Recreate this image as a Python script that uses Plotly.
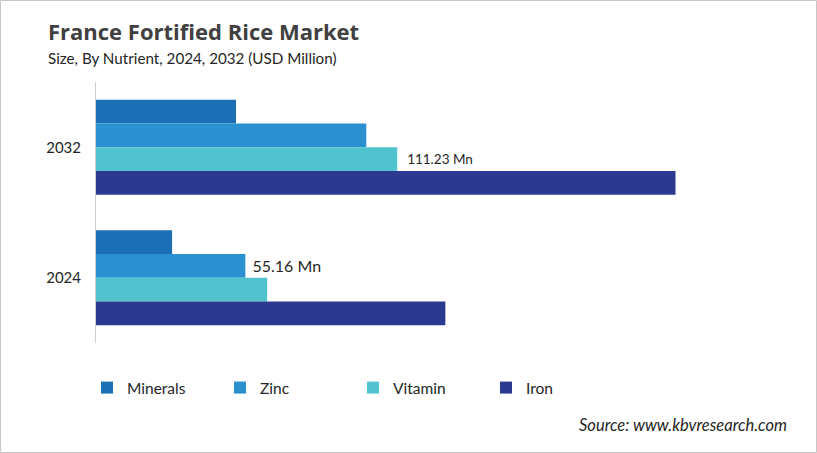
import plotly.graph_objects as go

years = ["2032", "2024"]
series = ["Minerals", "Zinc", "Vitamin", "Iron"]
minerals = [51.7, 28.1]
zinc = [99.8, 55.16]
vitamin = [111.23, 63.2]
iron = [214.0, 129.0]
labels = {
    "Minerals": ["", ""],
    "Zinc": ["", " 55.16 Mn"],
    "Vitamin": ["  111.23 Mn", ""],
    "Iron": ["", ""],
}
label_sizes = {"Minerals": 14, "Zinc": 16, "Vitamin": 13.5, "Iron": 14}
colors = {
    "Minerals": "#1b6fb4",
    "Zinc": "#2b90d0",
    "Vitamin": "#50c3cf",
    "Iron": "#2b3990",
}
values = {"Minerals": minerals, "Zinc": zinc, "Vitamin": vitamin, "Iron": iron}

W, H = 817, 453
ML, MR, MT, MB = 96, 44, 82, 110
PW, PH = W - ML - MR, H - MT - MB

fig = go.Figure()
for s in series:
    fig.add_trace(go.Bar(
        name=s, y=years, x=values[s], orientation="h",
        marker=dict(color=colors[s], line=dict(width=0)),
        text=labels[s], textposition="outside", constraintext="none",
        cliponaxis=False,
        textfont=dict(family="Lato, Open Sans, sans-serif", size=label_sizes[s], color="#262626"),
        hoverinfo="x+name",
    ))

fig.update_layout(
    width=W, height=H,
    margin=dict(l=ML, r=MR, t=MT, b=MB),
    paper_bgcolor="white", plot_bgcolor="white",
    barmode="group", bargap=0.272, bargroupgap=0,
    font=dict(family="Lato, Open Sans, sans-serif", color="#262626"),
    xaxis=dict(range=[0, 250], visible=False, showgrid=False, zeroline=False),
    yaxis=dict(autorange="reversed", showgrid=False, zeroline=False,
               showline=True, linecolor="#d0d0d0", linewidth=1,
               ticks="", ticklabelstandoff=11,
               tickfont=dict(size=15, color="#262626")),
    legend=dict(orientation="h", x=(87 - ML) / PW, xanchor="left",
                y=-(388 - (H - MB)) / PH, yanchor="middle",
                entrywidth=88, entrywidthmode="pixels",
                font=dict(size=15.5, color="#262626"),
                itemwidth=30, bgcolor="rgba(0,0,0,0)"),
    showlegend=True,
)

fig.add_annotation(text="<b>France Fortified Rice Market</b>", xref="paper", yref="paper",
                   x=(46 - ML) / PW, y=1 + (MT - 31) / PH, xanchor="left", yanchor="middle",
                   showarrow=False, font=dict(family="Open Sans, sans-serif", size=22, color="#404040"))
fig.add_annotation(text="Size, By Nutrient, 2024, 2032 (USD Million)", xref="paper", yref="paper",
                   x=(46 - ML) / PW, y=1 + (MT - 58) / PH, xanchor="left", yanchor="middle",
                   showarrow=False, font=dict(size=15.2, color="#262626"))
fig.add_annotation(text="<i>Source: www.kbvresearch.com</i>", xref="paper", yref="paper",
                   x=(789 - ML) / PW, y=-(425 - (H - MB)) / PH, xanchor="right", yanchor="middle",
                   showarrow=False, font=dict(size=16.5, color="#262626"))

fig.add_shape(type="rect", xref="paper", yref="paper",
              x0=(0.5 - ML) / PW, x1=(W - 0.5 - ML) / PW,
              y0=-(MB - 0.5) / PH, y1=1 + (MT - 0.5) / PH,
              line=dict(color="#c8c8c8", width=1), fillcolor="rgba(0,0,0,0)", layer="below")

fig.write_html("out.html", config={"displayModeBar": False},
               post_script="document.body.style.margin='0';")
